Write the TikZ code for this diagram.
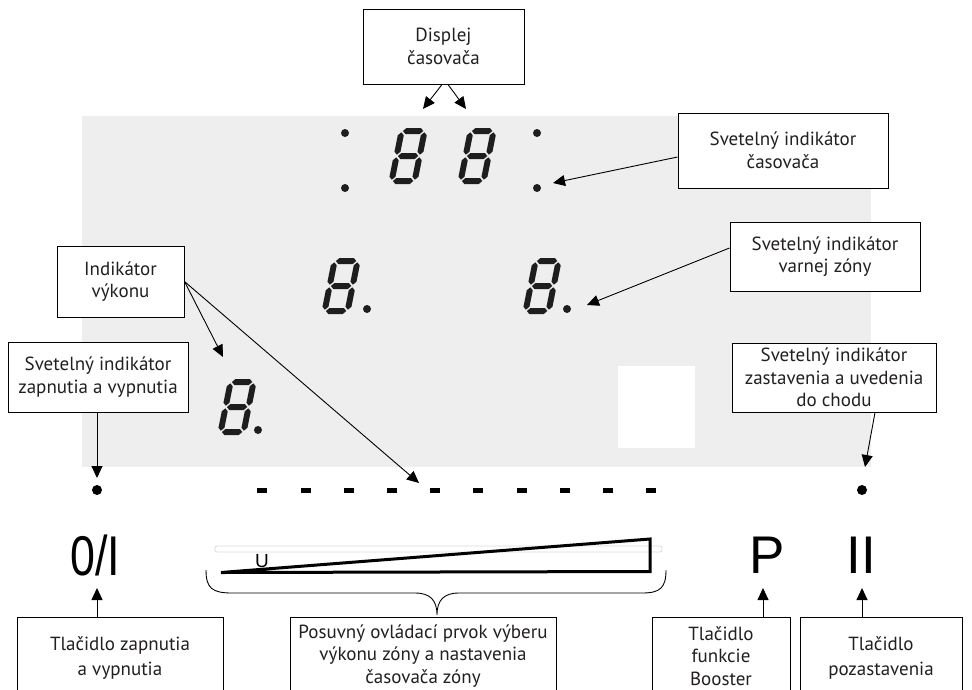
\documentclass[tikz,border=0pt]{standalone}
\usepackage{fontspec}
\usepackage{graphicx}
\setmainfont{PT Sans}
\newfontfamily\arialf{Liberation Sans}
\usetikzlibrary{arrows.meta}
\definecolor{panel}{HTML}{EEEEEE}
\definecolor{segc}{HTML}{1E1E1E}
\definecolor{txt}{HTML}{231F20}
\newcommand{\hsg}[3]{\fill (#1,#3)--(#1+3,#3+3)--(#2-3,#3+3)--(#2,#3)--(#2-3,#3-3)--(#1+3,#3-3)--cycle;}
\newcommand{\vsg}[3]{\fill (#1,#2)--(#1+3,#2+3)--(#1+3,#3-3)--(#1,#3)--(#1-3,#3-3)--(#1-3,#2+3)--cycle;}
\newcommand{\sevseg}[2]{%
\begin{scope}[shift={(#1,#2)},x=1pt,y=1pt,xslant=0.2,fill=segc]
\hsg{4.3}{24.7}{53}\hsg{4.3}{24.7}{28}\hsg{4.3}{24.7}{3}
\vsg{3}{4.3}{26.7}\vsg{3}{29.3}{51.7}\vsg{26}{4.3}{26.7}\vsg{26}{29.3}{51.7}
\end{scope}}
\begin{document}
\begin{tikzpicture}[x=1pt,y=-1pt,
  box/.style={draw=black, line width=1pt, fill=white, align=center, inner sep=0pt,
    text=txt, font=\fontsize{19}{22.5}\selectfont},
  arr/.style={-{Triangle[length=12pt,width=11pt]}, line width=0.9pt},
  dotc/.style={fill=segc},
  btn/.style={inner sep=0pt, anchor=base, text=black}]
\useasboundingbox (0,0) rectangle (972,689);
\clip (0,0) rectangle (972,689);
\fill[panel] (82,116) rectangle (871,467);
\fill[white] (618,366) rectangle (695,448);

% seven segment digits
\sevseg{388}{184}
\sevseg{457}{184}
\sevseg{321}{314}
\sevseg{522}{314}
\sevseg{217}{435}
\foreach \p in {(345,133),(345,188),(537,133),(537,188),(367,309),(567,309),(258,430)}
  \fill[dotc] \p circle (4pt);

% indicator dots
\fill[black] (97,490) circle (5pt);
\fill[black] (862,490) circle (5pt);
% slider dashes
\foreach \x in {257,301,344,387,430,473,517,560,603,646}
  \fill[black] (\x,488) rectangle ++(10,4.5);

% slider
\draw[gray!30, line width=0.8pt, rounded corners=2pt] (215,546) rectangle (662,552);
\draw[line width=3pt, line join=miter] (221,572.5) -- (650,571.5) -- (650,539) -- cycle;
\node[btn, font=\arialf\fontsize{19}{19}\selectfont] (uu) at (262,567) {U};

% buttons
\node[btn, font=\arialf\fontsize{56}{56}\selectfont] (onbtn) at (95,575) {\scalebox{0.8}[1]{0/I}};
\node[btn, font=\arialf\fontsize{53}{53}\selectfont] (pbtn) at (767,573) {P};
\node[btn, font=\arialf\fontsize{53}{53}\selectfont] (iibtn) at (861,573) {II};

% label boxes
\node[box, minimum width=161pt, minimum height=75pt] (disp) at (443.5,46.5) {Displej\\časovača};
\node[box, minimum width=210pt, minimum height=75pt] (ci) at (783,150.5) {Svetelný indikátor\\časovača};
\node[box, minimum width=190pt, minimum height=69pt] (vz) at (825,256.5) {Svetelný indikátor\\varnej zóny};
\node[box, minimum width=127pt, minimum height=71pt] (vyk) at (120.5,281.5) {Indikátor\\výkonu};
\node[box, minimum width=180pt, minimum height=70pt] (onoff) at (98,377) {Svetelný indikátor\\zapnutia a vypnutia};
\node[box, minimum width=204pt, minimum height=69pt] (zast) at (834,377.5) {Svetelný indikátor\\zastavenia a uvedenia\\do chodu};

\node[box, minimum width=206pt, minimum height=82pt, font=\fontsize{19}{25}\selectfont] (b1) at (120,658) {Tlačidlo zapnutia\\a vypnutia};
\node[box, minimum width=266pt, minimum height=78pt] (b2) at (423,656) {Posuvný ovládací prvok výberu\\výkonu zóny a nastavenia\\časovača zóny};
\node[box, minimum width=138pt, minimum height=78pt] (b3) at (721,656) {Tlačidlo\\funkcie\\Booster};
\node[box, minimum width=162pt, minimum height=82pt, font=\fontsize{19}{25}\selectfont] (b4) at (881,658) {Tlačidlo\\pozastavenia};

% arrow targets
\coordinate (td1) at (423,109);
\coordinate (td2) at (466,109);
\coordinate (tci) at (553,183);
\coordinate (tvz) at (587,305);
\coordinate (tv1) at (223,357);
\coordinate (tv2) at (419,483);
\coordinate (ton) at (97,478);
\coordinate (tza) at (865,467);
\coordinate (tb1) at (97,588);
\coordinate (tb3) at (763,588);
\coordinate (tb4) at (862,588);

\draw[arr] ([xshift=-1.5pt]disp.south) -- (td1);
\draw[arr] ([xshift=4.5pt]disp.south) -- (td2);
\draw[arr] ([yshift=-6.5pt]ci.west) -- (tci);
\draw[arr] ([yshift=8.5pt]vz.west) -- (tvz);
\draw[arr] (vyk.east) -- (tv1);
\draw[arr] (vyk.east) -- (tv2);
\draw[arr] ([xshift=-1pt]onoff.south) -- (ton);
\draw[arr] ([xshift=41pt]zast.south) -- (tza);
\draw[arr] ([xshift=-23pt]b1.north) -- (tb1);
\draw[arr] ([xshift=42pt]b3.north) -- (tb3);
\draw[arr] ([xshift=-19pt]b4.north) -- (tb4);

% brace
\draw[line width=0.9pt] (206,570) .. controls (206,588) and (212,593) .. (232,593)
  -- (415,593) .. controls (430,593) and (437,600) .. (437,615)
  .. controls (437,600) and (444,593) .. (459,593)
  -- (642,593) .. controls (660,593) and (666,588) .. (666,570);
\end{tikzpicture}
\end{document}
